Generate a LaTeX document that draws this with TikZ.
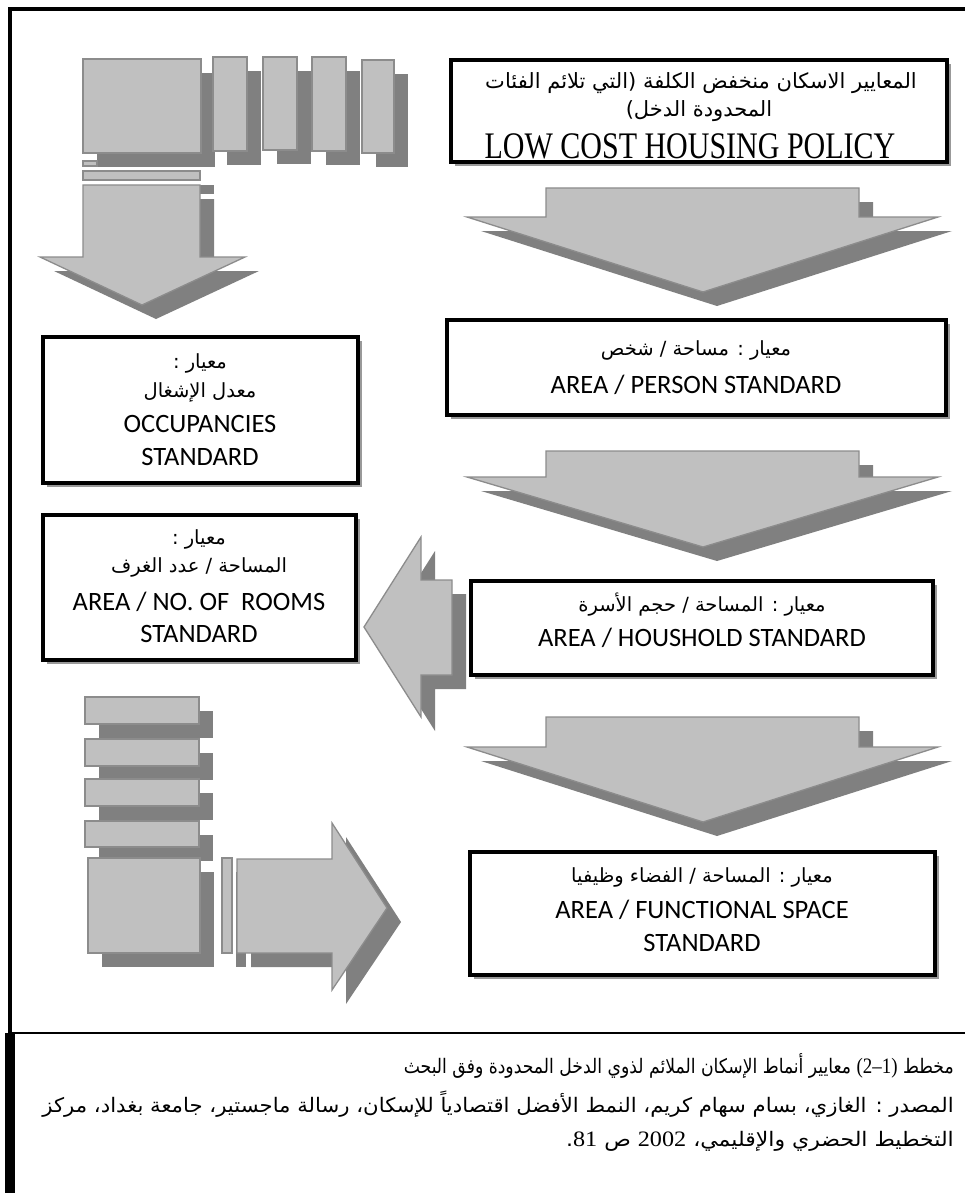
\documentclass[tikz,border=0pt]{standalone}
\usepackage{fontspec}
\setmainfont{Liberation Serif}
\newfontfamily\sansf{Carlito}
\newfontfamily\arf[Script=Arabic]{DejaVu Sans}
\TeXXeTstate=1
\definecolor{lgray}{HTML}{C0C0C0}
\definecolor{mgray}{HTML}{8C8C8C}
\definecolor{dgray}{HTML}{808080}
\definecolor{bshd}{HTML}{999999}
\newcommand{\sshape}[1]{\fill[dgray,shift={(14,14)}] #1; \filldraw[shp] #1;}
\begin{document}
\begin{tikzpicture}[x=1pt,y=-1pt,
  shp/.style={fill=lgray,draw=mgray,line width=1.3pt},
  boxbg/.style={fill=white,draw=none,inner sep=0pt,outer sep=0pt,
     preaction={fill=bshd,transform canvas={xshift=4pt,yshift=-4pt}}},
  boxline/.style={draw=black,line width=4pt},
  ar/.style={font=\arf\fontsize{19.5}{22}\selectfont,inner sep=0pt},
  en/.style={font=\sansf\fontsize{26.5}{30}\selectfont,inner sep=0pt},
  captxt/.style={font=\arf\fontsize{20}{22}\selectfont,inner sep=0pt,anchor=east}]
\useasboundingbox (0,0) rectangle (965,1193);
\fill[white] (0,0) rectangle (965,1193);

% ---------- top-left decoration ----------
\sshape{(83,59) rectangle (201,153)}
\sshape{(213,57) rectangle (247,151)}
\sshape{(263,57) rectangle (297,150)}
\sshape{(312,57) rectangle (346,151)}
\sshape{(362,60) rectangle (394,153)}
\filldraw[shp] (83,161) rectangle (97,166);
\sshape{(83,171) rectangle (200,180)}
\sshape{(83,185) -- (200,185) -- (200,257) -- (245,257) -- (142,305) -- (40,257) -- (83,257) -- cycle}

% ---------- right column down arrows ----------
\sshape{(546,188) -- (859,188) -- (859,217) -- (938,217) -- (703,292) -- (467,217) -- (546,217) -- cycle}
\sshape{(546,451) -- (859,451) -- (859,477) -- (938,477) -- (703,547) -- (467,477) -- (546,477) -- cycle}
\sshape{(546,717) -- (859,717) -- (859,747) -- (938,747) -- (703,822) -- (467,747) -- (546,747) -- cycle}

% ---------- left arrow ----------
\sshape{(452,580) -- (452,675) -- (421,675) -- (421,717) -- (364,627) -- (421,537) -- (421,580) -- cycle}

% ---------- bottom-left decoration ----------
\sshape{(85,697) rectangle (199,724)}
\sshape{(85,739) rectangle (199,766)}
\sshape{(85,779) rectangle (199,806)}
\sshape{(85,821) rectangle (199,847)}
\sshape{(88,858) rectangle (200,953)}
\sshape{(222,858) rectangle (232,953)}
\sshape{(237,859) -- (332,859) -- (332,823) -- (387,908) -- (332,990) -- (332,953) -- (237,953) -- cycle}

% ---------- boxes ----------
\node[boxbg,minimum width=496pt,minimum height=102pt] (b1) at (699,111) {};
\node[ar,font=\arf\fontsize{21}{24}\selectfont] (b1a) at (701,83) {\beginR المعايير الاسكان منخفض الكلفة (التي تلائم الفئات\endR};
\node[ar,font=\arf\fontsize{21}{24}\selectfont] (b1b) at (699,111) {\beginR المحدودة الدخل)\endR};
\node[inner sep=0pt,font=\fontsize{30}{33}\selectfont] (b1c) at (690,146) {\scalebox{1}[1.25]{LOW COST HOUSING POLICY}};
\draw[boxline] (b1.north west) rectangle (b1.south east);

\node[boxbg,minimum width=499pt,minimum height=95pt] (b2) at (696,367) {};
\node[ar] (b2a) at (696,350) {\beginR معيار : مساحة / شخص\endR};
\node[en] (b2b) at (696,385) {AREA / PERSON STANDARD};
\draw[boxline] (b2.north west) rectangle (b2.south east);

\node[boxbg,minimum width=462pt,minimum height=94pt] (b3) at (702,628) {};
\node[ar] (b3a) at (702,605) {\beginR معيار : المساحة / حجم الأسرة\endR};
\node[en] (b3b) at (702,638) {AREA / HOUSHOLD STANDARD};
\draw[boxline] (b3.north west) rectangle (b3.south east);

\node[boxbg,minimum width=465pt,minimum height=123pt] (b4) at (702,913) {};
\node[ar] (b4a) at (702,877) {\beginR معيار : المساحة / الفضاء وظيفيا\endR};
\node[en] (b4b) at (702,910) {AREA / FUNCTIONAL SPACE};
\node[en] (b4c) at (702,943) {STANDARD};
\draw[boxline] (b4.north west) rectangle (b4.south east);

\node[boxbg,minimum width=315pt,minimum height=146pt] (l1) at (200,410) {};
\node[ar] (l1a) at (200,363) {\beginR معيار :\endR};
\node[ar] (l1b) at (200,392) {\beginR معدل الإشغال\endR};
\node[en] (l1c) at (200,424) {OCCUPANCIES};
\node[en] (l1d) at (200,457) {STANDARD};
\draw[boxline] (l1.north west) rectangle (l1.south east);

\node[boxbg,minimum width=313pt,minimum height=145pt] (l2) at (199,587) {};
\node[ar] (l2a) at (199,539) {\beginR معيار :\endR};
\node[ar] (l2b) at (199,567) {\beginR المساحة / عدد الغرف\endR};
\node[en] (l2c) at (199,602) {AREA / NO. OF\ \ ROOMS};
\node[en] (l2d) at (199,634) {STANDARD};
\draw[boxline] (l2.north west) rectangle (l2.south east);

% ---------- frame ----------
\draw[line width=4pt] (10,1033) -- (10,9) -- (965,9);
\draw[line width=2pt] (10,1033) -- (965,1033);
\fill[black] (5,1033) rectangle (15,1193);

% ---------- caption ----------
\node[captxt] (c1) at (954,1066) {\scalebox{0.86}[1]{\beginR مخطط \beginL{\rmfamily\fontsize{22}{24}\selectfont(2–1)}\endL{} معايير أنماط الإسكان الملائم لذوي الدخل المحدودة وفق البحث\endR}};
\node[captxt] (c2) at (954,1104) {\scalebox{1.06}[1]{\beginR المصدر : الغازي، بسام سهام كريم، النمط الأفضل اقتصادياً للإسكان، رسالة ماجستير، جامعة بغداد، مركز\endR}};
\node[captxt] (c3) at (954,1141) {\scalebox{1.1}[1]{\beginR التخطيط الحضري والإقليمي، \beginL{\rmfamily\fontsize{22}{24}\selectfont 2002}\endL{} ص \beginL{\rmfamily\fontsize{22}{24}\selectfont 81}\endL.\endR}};
\end{tikzpicture}
\end{document}
